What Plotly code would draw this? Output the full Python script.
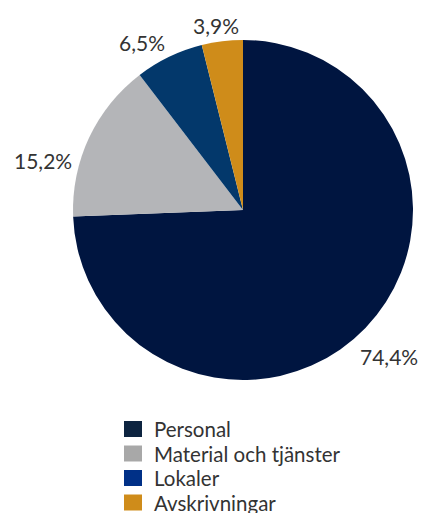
import plotly.graph_objects as go

labels = ["Personal", "Material och tjänster", "Lokaler", "Avskrivningar"]
values = [74.4, 15.2, 6.5, 3.9]
text_labels = ["74,4%", "15,2%", "6,5%", "3,9%"]
colors = ["#001540", "#b4b5b8", "#03386b", "#cf8c1a"]
legend_colors = ["#0d2440", "#a8a8a8", "#003087", "#cf8c1a"]

W, H = 421, 513
FONT = "Lato"
fig = go.Figure(go.Pie(
    labels=labels, values=values,
    textinfo="none",
    marker=dict(colors=colors, line=dict(width=0)),
    sort=False, direction="clockwise", rotation=0,
    domain=dict(x=[73/W, 413/W], y=[1-380/H, 1-40/H]),
    hoverinfo="label+percent", showlegend=False,
))

# percentage labels placed outside the slices
label_pos = [(389, 356), (43, 160), (142, 43), (216, 25)]
for t, (px, py) in zip(text_labels, label_pos):
    fig.add_annotation(x=px/W, y=1-py/H, xref="paper", yref="paper",
                       text=t, showarrow=False, xanchor="center", yanchor="middle",
                       font=dict(size=21, color="#333333", family=FONT))

# legend
for i, (name, c) in enumerate(zip(labels, legend_colors)):
    top = 421 + i*24.5
    fig.add_shape(type="rect", xref="paper", yref="paper",
                  x0=124/W, x1=142/W, y0=1-(top+16)/H, y1=1-top/H,
                  fillcolor=c, line=dict(width=0))
    fig.add_annotation(x=152/W, y=1-(top+8)/H, xref="paper", yref="paper",
                       text=name, showarrow=False, xanchor="left", yanchor="middle",
                       font=dict(size=20.5, color="#333333", family=FONT))

fig.update_layout(
    width=W, height=H,
    margin=dict(l=0, r=0, t=0, b=0),
    paper_bgcolor="white", plot_bgcolor="white",
    showlegend=False,
)
fig.write_html("out.html", config={"displayModeBar": False},
               post_script="document.body.style.margin='0';document.body.style.overflow='hidden';")
